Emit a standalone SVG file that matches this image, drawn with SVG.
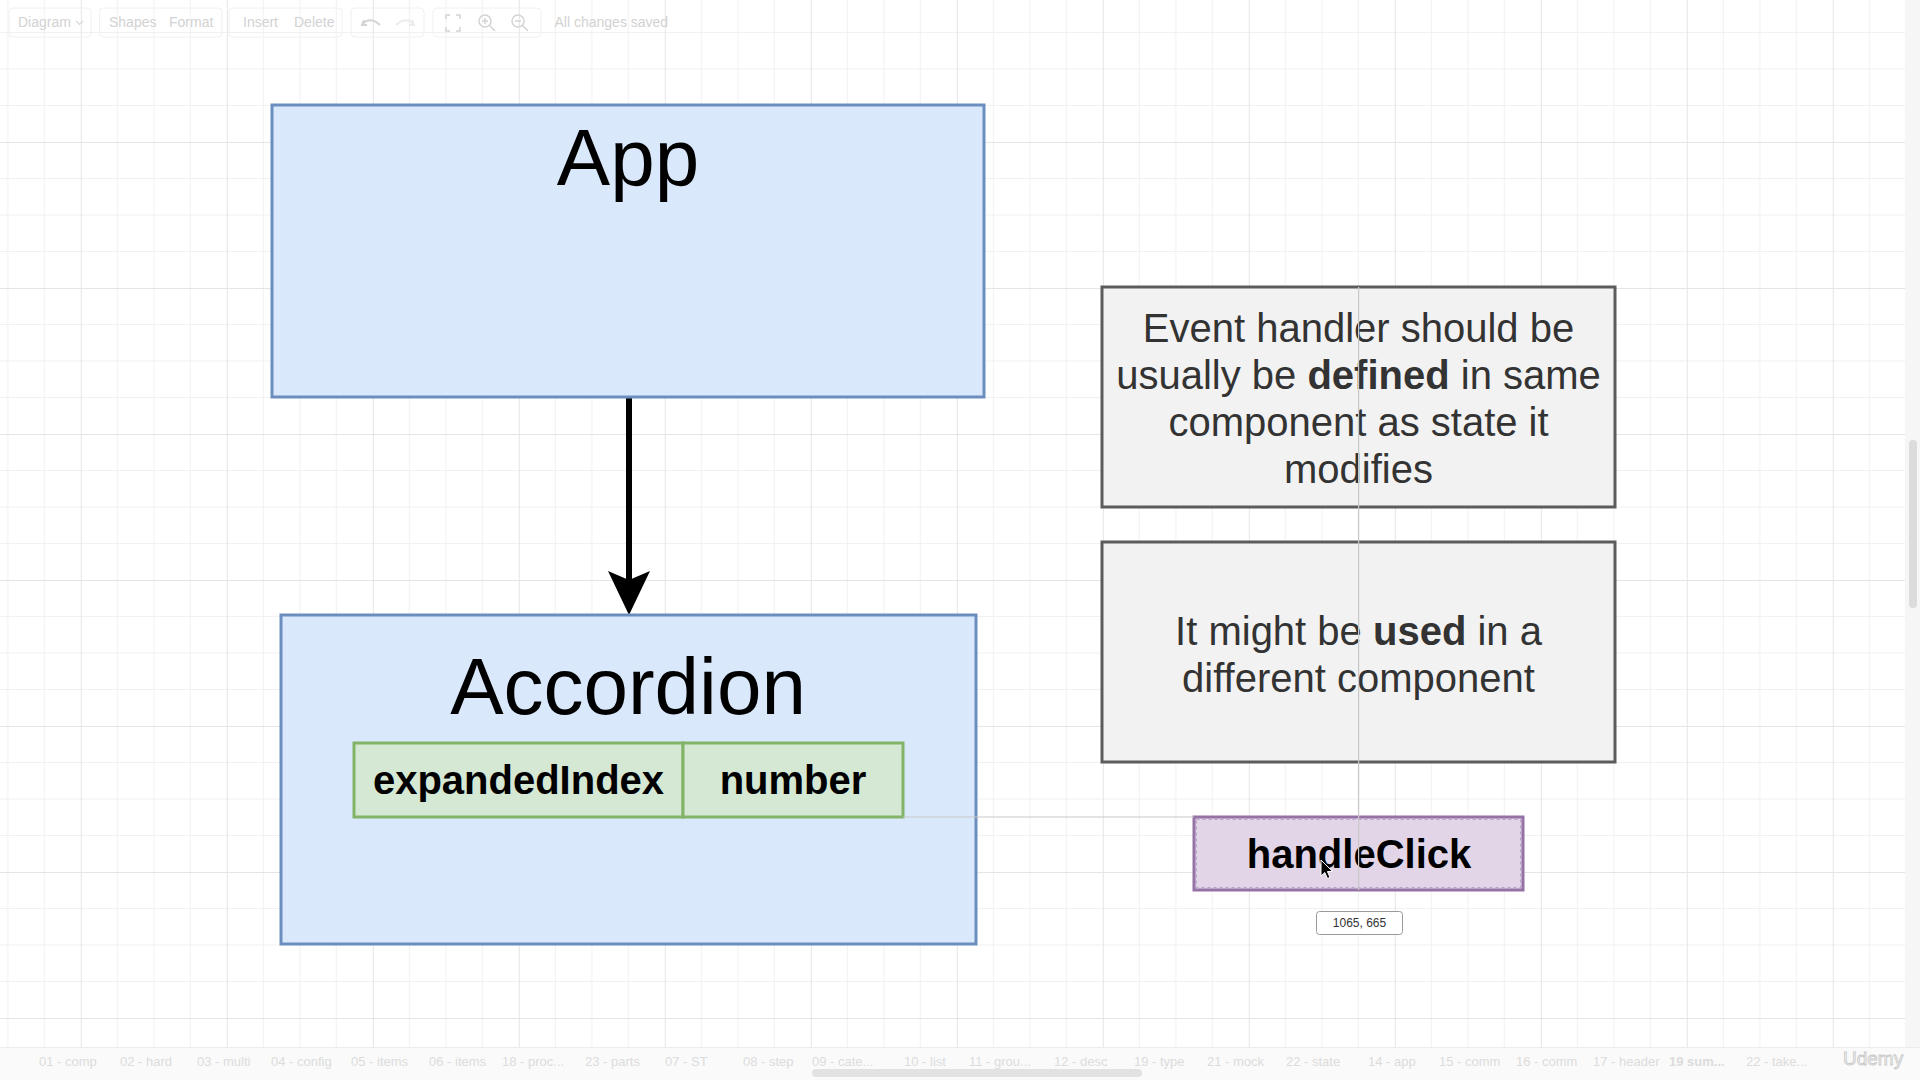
<svg xmlns="http://www.w3.org/2000/svg" width="1920" height="1080" viewBox="0 0 1920 1080">
  <style>
    .ui { font-family: "Liberation Sans", Arial, sans-serif; fill: #d2d2d2; font-size: 14px; }
    .tab { font-family: "Liberation Sans", Arial, sans-serif; fill: #dcdcdc; font-size: 13px; }
    .blue { fill: #dae8fc; stroke: #6c8ebf; stroke-width: 3; }
    .note { fill: #f2f2f2; stroke: #5c5c5c; stroke-width: 3; }
    .green { fill: #d5e8d4; stroke: #82b366; stroke-width: 3; }
    .purple { fill: #e1d5e7; stroke: #9673a6; stroke-width: 3; }
    .title { font-family: "Liberation Sans", Arial, sans-serif; font-size: 80px; fill: #000; text-anchor: middle; }
    .cell { font-family: "Liberation Sans", Arial, sans-serif; font-size: 40px; font-weight: bold; fill: #000; text-anchor: middle; }
    .notetext { font-family: "Liberation Sans", Arial, sans-serif; font-size: 40px; fill: #333; text-anchor: middle; }
    .guide { stroke: #c8c8c8; stroke-width: 1.2; fill: none; }
  </style>
  <defs>
    <pattern id="grid" x="80.8" y="142" width="146" height="146" patternUnits="userSpaceOnUse">
      <path d="M36.5 0 V146 M73 0 V146 M109.5 0 V146 M0 36.5 H146 M0 73 H146 M0 109.5 H146" stroke="#f1f1f1" stroke-width="1" fill="none"/>
      <path d="M0.5 0 V146 M0 0.5 H146" stroke="#e5e5e5" stroke-width="1" fill="none"/>
    </pattern>
    <marker id="arrow" viewBox="0 0 44 42" refX="24" refY="21" markerWidth="44" markerHeight="42" markerUnits="userSpaceOnUse" orient="auto">
      <path d="M0 0 L44 21 L0 42 L9 21 Z" fill="#000"/>
    </marker>
  </defs>

  <!-- canvas -->
  <rect x="0" y="0" width="1920" height="1080" fill="#ffffff"/>
  <rect x="0" y="0" width="1905" height="1047" fill="url(#grid)"/>

  <!-- toolbar -->
  <g id="toolbar">
    <g fill="none" stroke="#f0f0f0" stroke-width="1">
      <rect x="9" y="8" width="82" height="29" rx="4"/>
      <rect x="99.5" y="8" width="122.5" height="29" rx="4"/>
      <rect x="229" y="8" width="113" height="29" rx="4"/>
      <rect x="351" y="8" width="73" height="29" rx="4"/>
      <rect x="433" y="8" width="108" height="29" rx="4"/>
    </g>
    <text class="ui" x="18" y="27">Diagram</text>
    <path d="M76 21 L79.5 24.5 L83 21" stroke="#d8d8d8" stroke-width="1.2" fill="none"/>
    <text class="ui" x="109" y="27">Shapes</text>
    <text class="ui" x="169" y="27">Format</text>
    <text class="ui" x="243" y="27">Insert</text>
    <text class="ui" x="294" y="27">Delete</text>
    <path d="M364 20 L362 25 L367 25 M362.5 24 Q370 16 380 25" stroke="#d4d4d4" stroke-width="2" fill="none"/>
    <path d="M412 20 L414 25 L409 25 M413.5 24 Q406 16 396 25" stroke="#ececec" stroke-width="2" fill="none"/>
    <path d="M446 19 V15 H450 M456 15 H460 V19 M460 27 V31 H456 M450 31 H446 V27" stroke="#d4d4d4" stroke-width="1.5" fill="none"/>
    <circle cx="485" cy="21" r="6" stroke="#d4d4d4" stroke-width="1.5" fill="none"/>
    <path d="M489.5 25.5 L495 31 M482 21 H488 M485 18 V24" stroke="#d4d4d4" stroke-width="1.5" fill="none"/>
    <circle cx="518" cy="21" r="6" stroke="#d4d4d4" stroke-width="1.5" fill="none"/>
    <path d="M522.5 25.5 L528 31 M515 21 H521" stroke="#d4d4d4" stroke-width="1.5" fill="none"/>
    <text class="ui" x="554.5" y="27">All changes saved</text>
  </g>

  <!-- right scrollbar -->
  <rect x="1905" y="0" width="15" height="1047" fill="#f6f6f6"/>
  <rect x="1909" y="440" width="8" height="168" rx="4" fill="#dcdcdc"/>

  <!-- bottom tab bar -->
  <g id="tabbar">
    <rect x="0" y="1047" width="1920" height="33" fill="#fafafa"/>
    <path d="M0 1047.5 H1920" stroke="#ececec" stroke-width="1"/>
    <rect x="812" y="1069" width="330" height="8" rx="4" fill="#e2e2e2"/>
    <text class="tab" x="39" y="1066">01 - comp</text>
    <text class="tab" x="120" y="1066">02 - hard</text>
    <text class="tab" x="197" y="1066">03 - multi</text>
    <text class="tab" x="271" y="1066">04 - config</text>
    <text class="tab" x="351" y="1066">05 - items</text>
    <text class="tab" x="429" y="1066">06 - items</text>
    <text class="tab" x="502" y="1066">18 - proc...</text>
    <text class="tab" x="585" y="1066">23 - parts</text>
    <text class="tab" x="665" y="1066">07 - ST</text>
    <text class="tab" x="743" y="1066">08 - step</text>
    <text class="tab" x="812" y="1066">09 - cate...</text>
    <text class="tab" x="904" y="1066">10 - list</text>
    <text class="tab" x="969" y="1066">11 - grou...</text>
    <text class="tab" x="1054" y="1066">12 - desc</text>
    <text class="tab" x="1134" y="1066">19 - type</text>
    <text class="tab" x="1207" y="1066">21 - mock</text>
    <text class="tab" x="1286" y="1066">22 - state</text>
    <text class="tab" x="1368" y="1066">14 - app</text>
    <text class="tab" x="1439" y="1066">15 - comm</text>
    <text class="tab" x="1516" y="1066">16 - comm</text>
    <text class="tab" x="1593" y="1066">17 - header</text>
    <text class="tab" x="1669" y="1066" font-weight="bold" fill="#cfcfcf">19 sum...</text>
    <text class="tab" x="1746" y="1066">22 - take...</text>
    <text x="1843" y="1065" font-family="Liberation Sans, Arial, sans-serif" font-size="19" fill="#f4f4f4" stroke="#c8c8c8" stroke-width="0.8">Udemy</text>
  </g>

  <!-- connectors -->
  <g id="connectors">
    <path d="M629 397 V595" stroke="#000" stroke-width="6" fill="none" marker-end="url(#arrow)"/>
  </g>

  <!-- nodes -->
  <g id="node-app">
    <rect class="blue" x="272" y="105" width="712" height="292"/>
    <text class="title" x="628" y="185">App</text>
  </g>

  <g id="node-accordion">
    <rect class="blue" x="281" y="615" width="695" height="329"/>
    <text class="title" x="628" y="714">Accordion</text>
  </g>

  <g id="node-expandedIndex">
    <rect class="green" x="354" y="743" width="329" height="74"/>
    <text class="cell" x="518.5" y="794">expandedIndex</text>
  </g>

  <g id="node-number">
    <rect class="green" x="683" y="743" width="220" height="74"/>
    <text class="cell" x="793" y="794">number</text>
  </g>

  <g id="node-note-defined">
    <rect class="note" x="1102" y="287" width="513" height="220"/>
    <text class="notetext" x="1358.5" y="342">Event handler should be</text>
    <text class="notetext" x="1358.5" y="389">usually be <tspan font-weight="bold">defined</tspan> in same</text>
    <text class="notetext" x="1358.5" y="436">component as state it</text>
    <text class="notetext" x="1358.5" y="483">modifies</text>
  </g>

  <g id="node-note-used">
    <rect class="note" x="1102" y="542" width="513" height="220"/>
    <text class="notetext" x="1358.5" y="645">It might be <tspan font-weight="bold">used</tspan> in a</text>
    <text class="notetext" x="1358.5" y="692">different component</text>
  </g>

  <g id="node-handleClick">
    <rect class="purple" x="1194" y="817" width="329" height="73"/>
    <rect x="1196.5" y="819.5" width="324" height="68" fill="none" stroke="#b9a3c6" stroke-width="1" stroke-dasharray="3 3"/>
    <text class="cell" x="1359" y="868">handleClick</text>
  </g>

  <!-- alignment guides -->
  <g id="guides">
    <path class="guide" d="M1358.6 287 V890"/>
    <path class="guide" d="M903 817 H1194"/>
  </g>

  <!-- coordinate tooltip -->
  <g id="tooltip">
    <rect x="1316.5" y="911.5" width="86" height="23" rx="3" fill="#ffffff" stroke="#9a9a9a" stroke-width="1"/>
    <text x="1359.5" y="927" font-family="Liberation Sans, Arial, sans-serif" font-size="12" fill="#333" text-anchor="middle">1065, 665</text>
  </g>

  <!-- mouse cursor -->
  <path d="M1321 860 L1321 876 L1324.8 872.5 L1327.5 878.5 L1330 877.4 L1327.4 871.6 L1332.5 871.4 Z" fill="#000" stroke="#fff" stroke-width="1"/>
</svg>
